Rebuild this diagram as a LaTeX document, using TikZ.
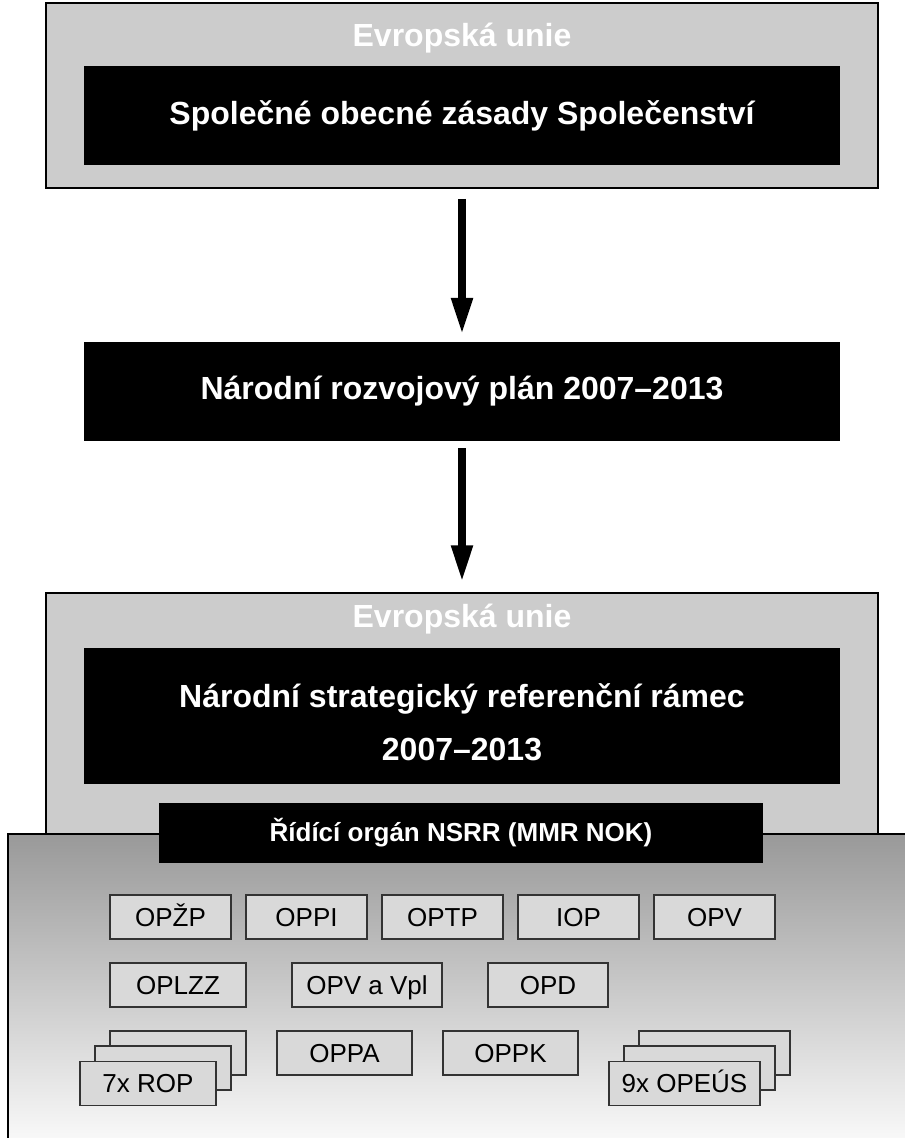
\documentclass[tikz,border=0pt]{standalone}
\usepackage{fontspec}
\setmainfont{Liberation Sans}
\usetikzlibrary{arrows.meta}

\begin{document}
\begin{tikzpicture}[x=1pt,y=-1pt]

                \tikzset{eubox/.style = {shape=rectangle,draw=black,line width=1.5pt,fill=black!20,inner sep=0pt}}
                \tikzset{blackbox/.style = {shape=rectangle,fill=black,text=white,inner sep=0pt,align=center,
                                            font=\fontsize{32}{53}\selectfont\bfseries}}
                \tikzset{eutitle/.style = {text=white,font=\fontsize{32}{38}\selectfont\bfseries}}
                \tikzset{opbox/.style = {shape=rectangle,draw=black!80,line width=1.2pt,fill=black!15,
                                         minimum height=44pt,inner sep=0pt,text height=20pt,text depth=1.4pt,
                                         font=\fontsize{26}{30}\selectfont}}
                \tikzset{bigarrow/.style = {line width=8pt,-{Triangle[width=20pt,length=37pt]}}}

                \useasboundingbox (0,0) rectangle (905,1138);
                \clip (0,0) rectangle (905,1138);

                % Evropska unie - top
                \node[eubox,minimum width=832pt,minimum height=185pt] (eu1) at (462, 95.5) {};
                \node[eutitle] (eu1t) at (462, 38) {Evropská unie};
                \node[blackbox,minimum width=756pt,minimum height=99pt] (zasady) at (462, 115.5)
                     {Společné obecné zásady Společenství};

                \node[blackbox,minimum width=756pt,minimum height=99pt] (nrp) at (462, 391.5)
                     {Národní rozvojový plán 2007--2013};

                \draw[bigarrow,shorten <=10pt,shorten >=7pt] (eu1.south) to (nrp.north);

                % Evropska unie - NSRR
                \node[eubox,minimum width=832pt,minimum height=307pt] (eu2) at (462, 746.5) {};
                \draw[bigarrow,shorten <=7pt,shorten >=10pt] (nrp.south) to (eu2.north);
                \node[eutitle] (eu2t) at (462, 619) {Evropská unie};
                \node[blackbox,minimum width=756pt,minimum height=136pt] (nsrr) at (462, 716) {};
                \node[blackbox] (nsrrt) at (462, 722)
                     {Národní strategický referenční rámec\\2007--2013};

                % operacni programy
                \node[draw=black,line width=1.5pt,top color=black!40,bottom color=white,
                      minimum width=912pt,minimum height=326pt,inner sep=0pt] (opregion) at (464, 997) {};
                \node[blackbox,minimum width=604pt,minimum height=60pt,
                      font=\fontsize{26}{30}\selectfont\bfseries] (rizeni) at (461, 833)
                     {Řídící orgán NSRR (MMR NOK)};

                \foreach \name [count=\i from 0] in {OPŽP,OPPI,OPTP,IOP,OPV}
                    \node[opbox,minimum width=121pt] (op\i) at (170.5+136*\i, 917) {\name};

                \node[opbox,minimum width=136pt] (oplzz) at (178, 985) {OPLZZ};
                \node[opbox,minimum width=150pt] (opvvpl) at (367, 985) {OPV a Vpl};
                \node[opbox,minimum width=120pt] (opd) at (548, 985) {OPD};

                \node[opbox,minimum width=135pt] (oppa) at (344.5, 1053) {OPPA};
                \node[opbox,minimum width=135pt] (oppk) at (510.5, 1053) {OPPK};

                \node[opbox,minimum width=136pt] (rop3) at (178, 1053) {};
                \node[opbox,minimum width=136pt] (rop2) at (163, 1068) {};
                \node[opbox,minimum width=136pt] (rop1) at (148, 1083.5) {7x ROP};

                \node[opbox,minimum width=151pt] (opeus3) at (714.5, 1053) {};
                \node[opbox,minimum width=151pt] (opeus2) at (699.5, 1068) {};
                \node[opbox,minimum width=151pt] (opeus1) at (684.5, 1083.5) {9x OPEÚS};
            \end{tikzpicture}
\end{document}
